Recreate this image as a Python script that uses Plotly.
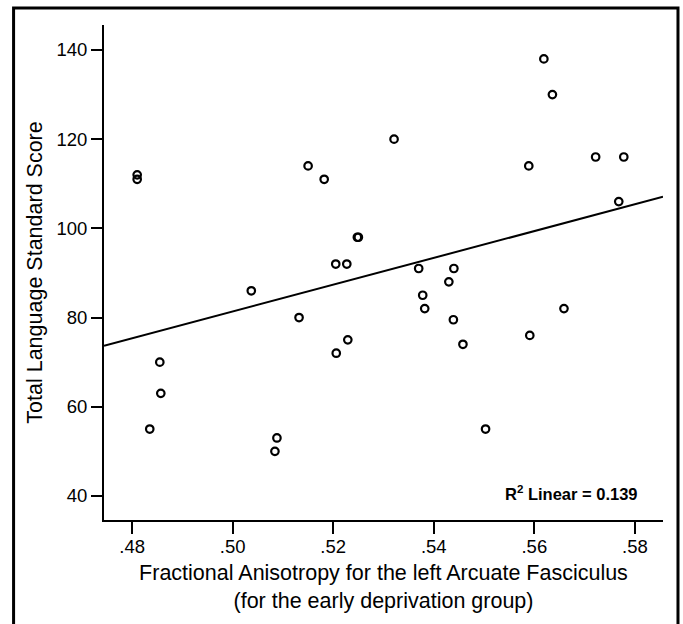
import numpy as np
import plotly.graph_objects as go

# Fractional anisotropy (left arcuate fasciculus), early deprivation group
fa_values = [0.4810, 0.4810, 0.4835, 0.4855, 0.4857, 0.5037, 0.5084, 0.5088,
             0.5132, 0.5150, 0.5182, 0.5205, 0.5227, 0.5206, 0.5229, 0.5248,
             0.5250, 0.5321, 0.5370, 0.5378, 0.5382, 0.5430, 0.5440, 0.5439,
             0.5458, 0.5503, 0.5589, 0.5591, 0.5619, 0.5636, 0.5659, 0.5722,
             0.5778, 0.5768]
# Total language standard score
language_scores = [112, 111, 55, 70, 63, 86, 50, 53,
                   80, 114, 111, 92, 92, 72, 75, 98,
                   98, 120, 91, 85, 82, 88, 91, 79.5,
                   74, 55, 114, 76, 138, 130, 82, 116,
                   116, 106]

x_tickvals = [0.48, 0.50, 0.52, 0.54, 0.56, 0.58]
x_ticktext = [".48", ".50", ".52", ".54", ".56", ".58"]
y_tickvals = [40, 60, 80, 100, 120, 140]

x_title_lines = ["Fractional Anisotropy for the left Arcuate Fasciculus",
                 "(for the early deprivation group)"]
y_title = "Total Language Standard Score"

# ---- figure geometry ----
W, H = 683, 624
L, R, T, B = 103.5, 20, 25, 104
pw, ph = W - L - R, H - T - B
x_range = [0.4744, 0.5856]
y_range = [34.6, 145.6]


def px(xp):
    return (xp - L) / pw


def py(yp):
    return (H - B - yp) / ph


x = np.array(fa_values)
y = np.array(language_scores)
slope, intercept = np.polyfit(x, y, 1)
pred = slope * x + intercept
r2 = 1 - np.sum((y - pred) ** 2) / np.sum((y - y.mean()) ** 2)
fit_x = np.array(x_range)
fit_y = slope * fit_x + intercept

fig = go.Figure()
fig.add_trace(go.Scatter(
    x=fit_x, y=fit_y, mode="lines",
    line=dict(color="black", width=2), showlegend=False, hoverinfo="skip"))
fig.add_trace(go.Scatter(
    x=fa_values, y=language_scores, mode="markers",
    marker=dict(symbol="circle-open", size=7.5, color="black",
                line=dict(width=2.2, color="black")),
    showlegend=False))

font_main = "Liberation Sans, Arial, Helvetica, sans-serif"
title_size = 21.5
tick_size = 18.5

fig.update_layout(
    width=W, height=H,
    margin=dict(l=L, r=R, t=T, b=B, pad=0),
    paper_bgcolor="white", plot_bgcolor="white",
    font=dict(family=font_main, color="black", size=tick_size),
    xaxis=dict(range=x_range, tickvals=x_tickvals, ticktext=x_ticktext,
               showgrid=False, zeroline=False, showline=True,
               linecolor="black", linewidth=2, ticks="outside",
               ticklen=12, tickwidth=1.5, tickcolor="black",
               ticklabelstandoff=-3,
               tickfont=dict(size=tick_size, family=font_main),
               title=dict(text="<br>".join(x_title_lines), standoff=9,
                          font=dict(size=title_size, family=font_main))),
    yaxis=dict(range=y_range, tickvals=y_tickvals,
               showgrid=False, zeroline=False, showline=True,
               linecolor="black", linewidth=2, ticks="outside",
               ticklen=11, tickwidth=1.5, tickcolor="black",
               tickfont=dict(size=tick_size, family=font_main),
               title=dict(text=y_title, standoff=8,
                          font=dict(size=title_size, family=font_main))),
    shapes=[dict(type="rect", xref="paper", yref="paper",
                 x0=px(13), x1=px(678), y0=py(680), y1=py(8),
                 line=dict(color="black", width=3), fillcolor="rgba(0,0,0,0)",
                 layer="above")],
    annotations=[
        dict(text="<b>R<sup>2</sup> Linear = %.3f</b>" % r2,
             xref="paper", yref="paper", x=px(640), y=py(493),
             xanchor="right", yanchor="middle", showarrow=False,
             font=dict(size=16.5, family="Liberation Sans Narrow, Arial Narrow, Liberation Sans, Arial")),
    ],
)

fig.write_html(
    "out.html",
    config={"displayModeBar": False},
    post_script="document.body.style.margin='0px';document.body.style.overflow='hidden';",
)
